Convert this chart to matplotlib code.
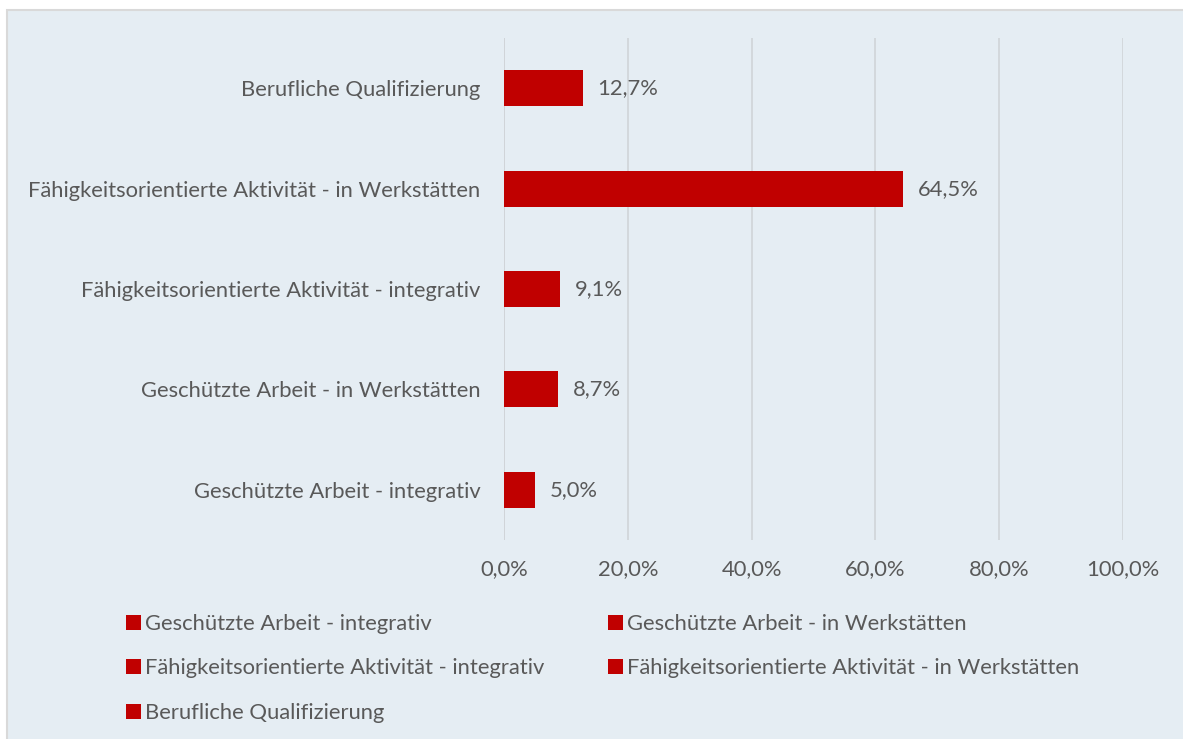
import matplotlib.pyplot as plt
from matplotlib.patches import Rectangle

# ----------------------------- DATA -----------------------------
categories = [
    "Geschützte Arbeit - integrativ",
    "Geschützte Arbeit - in Werkstätten",
    "Fähigkeitsorientierte Aktivität - integrativ",
    "Fähigkeitsorientierte Aktivität - in Werkstätten",
    "Berufliche Qualifizierung",
]
values = [5.0, 8.7, 9.1, 64.5, 12.7]
x_ticks = [0, 20, 40, 60, 80, 100]
# ----------------------------------------------------------------

BAR_COLOR = "#C00000"
BG_COLOR = "#E5EDF3"
TEXT_COLOR = "#595959"
GRID_COLOR = "#D0D4D8"
FS = 15.8

plt.rcParams["font.family"] = ["Lato", "DejaVu Sans"]


def pct(v):
    return f"{v:.1f}%".replace(".", ",")


fig = plt.figure(figsize=(11.83, 7.39), dpi=100)
fig.patch.set_facecolor("white")

# chart area background with thin gray frame
fig.patches.append(Rectangle((7 / 1183, -0.01), 1 - 7 / 1183 + 0.01, 1 - 10 / 739 + 0.01,
                             transform=fig.transFigure, facecolor=BG_COLOR,
                             edgecolor="#D9D9D9", linewidth=1.5, zorder=-5))

ax = fig.add_axes([504 / 1183, 1 - 540 / 739, (1123 - 504) / 1183, (540 - 38) / 739])
ax.set_facecolor("none")
ax.set_zorder(2)

handles = []
for i, (cat, val) in enumerate(zip(categories, values)):
    b = ax.barh(i, val, height=0.36, color=BAR_COLOR, label=cat, zorder=3)
    handles.append(b)
    ax.text(val + 2.4, i, pct(val), va="center", ha="left",
            fontsize=FS, color=TEXT_COLOR)

ax.set_xlim(0, 100)
ax.set_ylim(-0.5, len(categories) - 0.5)
ax.set_xticks(x_ticks)
ax.set_xticklabels([pct(t) for t in x_ticks], fontsize=FS, color=TEXT_COLOR)
ax.set_yticks(range(len(categories)))
ax.set_yticklabels(categories, fontsize=FS, color=TEXT_COLOR)
ax.tick_params(axis="both", length=0)
ax.tick_params(axis="y", pad=17)
ax.tick_params(axis="x", pad=14)
ax.grid(axis="x", color=GRID_COLOR, linewidth=1.2, zorder=0)
ax.axvline(0, color=GRID_COLOR, linewidth=1.2, zorder=1)
for s in ax.spines.values():
    s.set_visible(False)

# legend is filled column by column -> reorder to get row-wise reading order
order = [0, 2, 4, 1, 3]
fig.legend([handles[k] for k in order], [categories[k] for k in order],
           ncol=2, loc="upper left", bbox_to_anchor=(117 / 1183, 1 - 605 / 739),
           frameon=False, fontsize=FS, labelcolor=TEXT_COLOR,
           handlelength=0.68, handleheight=0.68, handletextpad=0.2,
           columnspacing=2.9, labelspacing=1.12, borderaxespad=0)

fig.savefig("out.png", dpi=100, facecolor=fig.get_facecolor())
